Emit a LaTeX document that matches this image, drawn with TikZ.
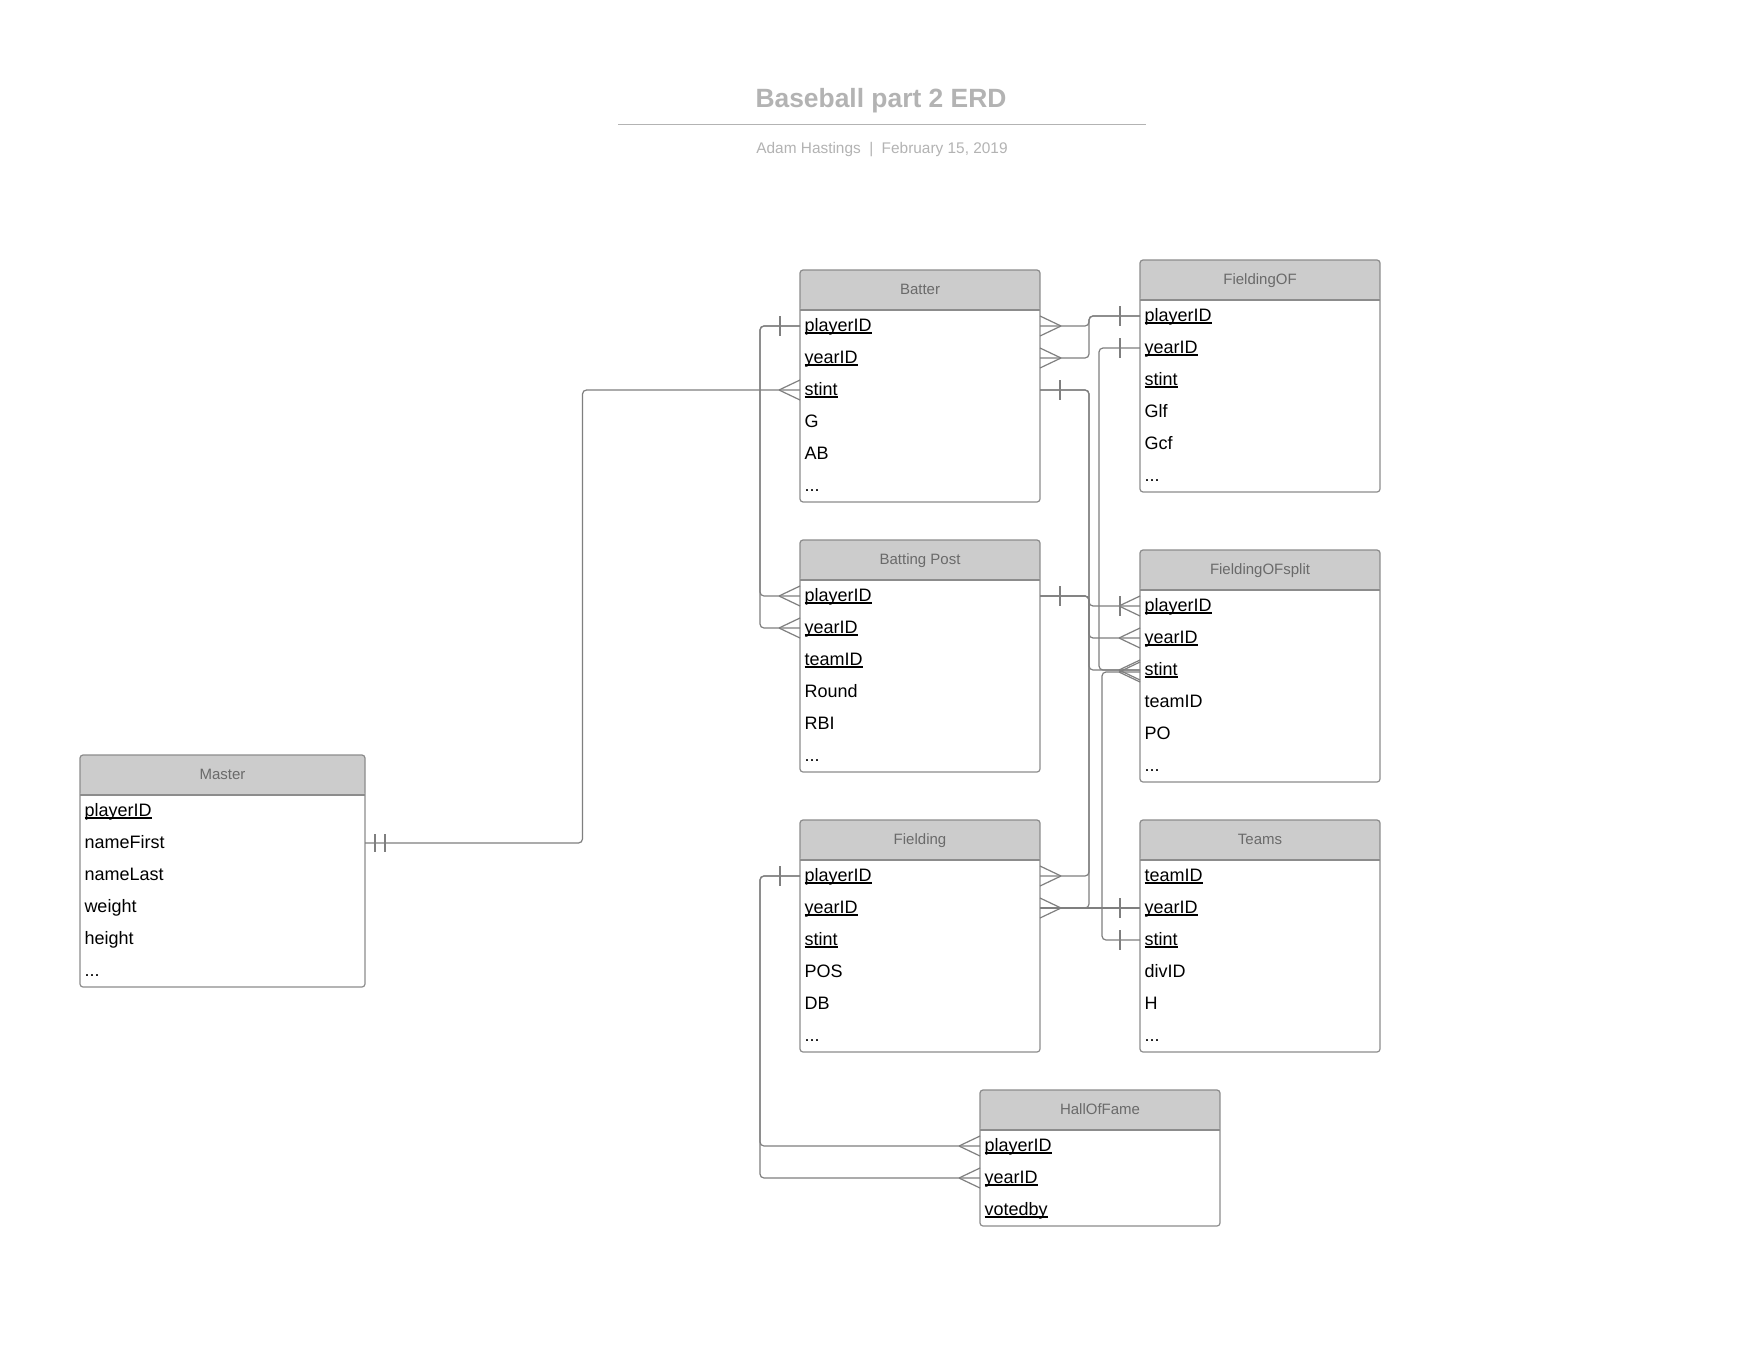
\documentclass[tikz,border=0pt]{standalone}
\usepackage{fontspec}
\setmainfont{Liberation Sans}
\definecolor{framecol}{HTML}{8C8C8C}
\definecolor{hdrfill}{HTML}{CCCCCC}
\definecolor{hdrtext}{HTML}{6A6A6A}
\definecolor{linecol}{HTML}{7F7F7F}
\definecolor{titlecol}{HTML}{B3B3B3}
\newsavebox\ulbox
\newcommand\ulx[1]{\sbox\ulbox{#1}\rlap{\rule[-1.0pt]{\wd\ulbox}{0.6pt}}\usebox\ulbox}
\newcommand\crowL[1]{\draw[conn,sharp corners] (#1) ++(-10.5pt,0) -- ++(10.5pt,5pt) ++(-10.5pt,-5pt) -- ++(10.5pt,-5pt);}
\newcommand\crowR[1]{\draw[conn,sharp corners] (#1) ++(10.5pt,0) -- ++(-10.5pt,5pt) ++(10.5pt,-5pt) -- ++(-10.5pt,-5pt);}
\newcommand\barL[1]{\draw[conn,sharp corners] ([xshift=-10pt]#1) ++(0,5pt) -- ++(0,-10pt);}
\newcommand\barR[1]{\draw[conn,sharp corners] ([xshift=10pt]#1) ++(0,5pt) -- ++(0,-10pt);}
\tikzset{
  entbox/.style={draw=framecol, fill=white, line width=0.6pt, rounded corners=1.5pt, inner sep=0pt, outer sep=0pt, anchor=north west, minimum width=120pt, minimum height=116pt,
    path picture={\fill[hdrfill] (path picture bounding box.north west) rectangle ([yshift=-20pt]path picture bounding box.north east);
      \draw[framecol, line width=0.6pt] ([yshift=-20pt]path picture bounding box.north west) -- ([yshift=-20pt]path picture bounding box.north east);}},
  hdrtxt/.style={inner sep=0pt, outer sep=0pt, text=hdrtext, font=\fontsize{7.5}{9}\selectfont, text height=5.4pt, text depth=0pt},
  rowtxt/.style={anchor=north west, inner xsep=2.25pt, inner ysep=0pt, outer sep=0pt, minimum height=16pt, text width=115.5pt, align=left, font=\fontsize{9}{10}\selectfont, text height=5.5pt, text depth=0pt},
  conn/.style={draw=linecol, line width=0.6pt, rounded corners=2pt},
}
\begin{document}
\begin{tikzpicture}[x=0.5pt,y=-0.5pt]
\useasboundingbox (0,0) rectangle (1760,1360);
\fill[white] (0,0) rectangle (1760,1360);

% title
\node[anchor=base, inner sep=0pt, text=titlecol, font=\fontsize{13.2}{15}\selectfont\bfseries] (title) at (881,107) {Baseball part 2 ERD};
\coordinate (ruleL) at (618,124.5);
\coordinate (ruleR) at (1146,124.5);
\draw[titlecol, line width=0.85pt] (ruleL) -- (ruleR);
\node[anchor=base, inner sep=0pt, text=titlecol, font=\fontsize{7.7}{9}\selectfont] (subtitle) at (882,153.5) {Adam Hastings\hspace{0.55em}|\hspace{0.55em}February 15, 2019};

% Batter
\node[entbox] (batter) at (800,270) {};
\node[hdrtxt] (batterH) at ([yshift=-9.6pt]batter.north) {Batter};
\node[rowtxt] (bat1) at ([yshift=-20pt]batter.north west) {\ulx{playerID}};
\node[rowtxt] (bat2) at (bat1.south west) {\ulx{yearID}};
\node[rowtxt] (bat3) at (bat2.south west) {\ulx{stint}};
\node[rowtxt] (bat4) at (bat3.south west) {G};
\node[rowtxt] (bat5) at (bat4.south west) {AB};
\node[rowtxt] (bat6) at (bat5.south west) {...};

% FieldingOF
\node[entbox] (fof) at (1140,260) {};
\node[hdrtxt] (fofH) at ([yshift=-9.6pt]fof.north) {FieldingOF};
\node[rowtxt] (fof1) at ([yshift=-20pt]fof.north west) {\ulx{playerID}};
\node[rowtxt] (fof2) at (fof1.south west) {\ulx{yearID}};
\node[rowtxt] (fof3) at (fof2.south west) {\ulx{stint}};
\node[rowtxt] (fof4) at (fof3.south west) {Glf};
\node[rowtxt] (fof5) at (fof4.south west) {Gcf};
\node[rowtxt] (fof6) at (fof5.south west) {...};

% Batting Post
\node[entbox] (bp) at (800,540) {};
\node[hdrtxt] (bpH) at ([yshift=-9.6pt]bp.north) {Batting Post};
\node[rowtxt] (bp1) at ([yshift=-20pt]bp.north west) {\ulx{playerID}};
\node[rowtxt] (bp2) at (bp1.south west) {\ulx{yearID}};
\node[rowtxt] (bp3) at (bp2.south west) {\ulx{teamID}};
\node[rowtxt] (bp4) at (bp3.south west) {Round};
\node[rowtxt] (bp5) at (bp4.south west) {RBI};
\node[rowtxt] (bp6) at (bp5.south west) {...};

% FieldingOFsplit
\node[entbox] (fos) at (1140,550) {};
\node[hdrtxt] (fosH) at ([yshift=-9.6pt]fos.north) {FieldingOFsplit};
\node[rowtxt] (fos1) at ([yshift=-20pt]fos.north west) {\ulx{playerID}};
\node[rowtxt] (fos2) at (fos1.south west) {\ulx{yearID}};
\node[rowtxt] (fos3) at (fos2.south west) {\ulx{stint}};
\node[rowtxt] (fos4) at (fos3.south west) {teamID};
\node[rowtxt] (fos5) at (fos4.south west) {PO};
\node[rowtxt] (fos6) at (fos5.south west) {...};

% Master
\node[entbox, minimum width=142.5pt] (mas) at (80,755) {};
\node[hdrtxt] (masH) at ([yshift=-9.6pt]mas.north) {Master};
\node[rowtxt, text width=138pt] (mas1) at ([yshift=-20pt]mas.north west) {\ulx{playerID}};
\node[rowtxt, text width=138pt] (mas2) at (mas1.south west) {nameFirst};
\node[rowtxt, text width=138pt] (mas3) at (mas2.south west) {nameLast};
\node[rowtxt, text width=138pt] (mas4) at (mas3.south west) {weight};
\node[rowtxt, text width=138pt] (mas5) at (mas4.south west) {height};
\node[rowtxt, text width=138pt] (mas6) at (mas5.south west) {...};

% Fielding
\node[entbox] (fld) at (800,820) {};
\node[hdrtxt] (fldH) at ([yshift=-9.6pt]fld.north) {Fielding};
\node[rowtxt] (fld1) at ([yshift=-20pt]fld.north west) {\ulx{playerID}};
\node[rowtxt] (fld2) at (fld1.south west) {\ulx{yearID}};
\node[rowtxt] (fld3) at (fld2.south west) {\ulx{stint}};
\node[rowtxt] (fld4) at (fld3.south west) {POS};
\node[rowtxt] (fld5) at (fld4.south west) {DB};
\node[rowtxt] (fld6) at (fld5.south west) {...};

% Teams
\node[entbox] (tm) at (1140,820) {};
\node[hdrtxt] (tmH) at ([yshift=-9.6pt]tm.north) {Teams};
\node[rowtxt] (tm1) at ([yshift=-20pt]tm.north west) {\ulx{teamID}};
\node[rowtxt] (tm2) at (tm1.south west) {\ulx{yearID}};
\node[rowtxt] (tm3) at (tm2.south west) {\ulx{stint}};
\node[rowtxt] (tm4) at (tm3.south west) {divID};
\node[rowtxt] (tm5) at (tm4.south west) {H};
\node[rowtxt] (tm6) at (tm5.south west) {...};

% HallOfFame
\node[entbox, minimum height=68pt] (hof) at (980,1090) {};
\node[hdrtxt] (hofH) at ([yshift=-9.6pt]hof.north) {HallOfFame};
\node[rowtxt] (hof1) at ([yshift=-20pt]hof.north west) {\ulx{playerID}};
\node[rowtxt] (hof2) at (hof1.south west) {\ulx{yearID}};
\node[rowtxt] (hof3) at (hof2.south west) {\ulx{votedby}};

% routing columns
\coordinate (busM) at (582.5,0);
\coordinate (busL) at (760,0);
\coordinate (busA) at (1089,0);
\coordinate (busB) at (1099,0);
\coordinate (busC) at (1102,0);

% connectors
\draw[conn] (mas2.east) -| (busM |- bat3.west) -- (bat3.west);
\draw[conn] (bat1.west) -| (busL |- bp1.west) -- (bp1.west);
\draw[conn] (bat1.west) -| (busL |- bp2.west) -- (bp2.west);
\draw[conn] (fld1.west) -| (busL |- hof1.west) -- (hof1.west);
\draw[conn] (fld1.west) -| (busL |- hof2.west) -- (hof2.west);
\draw[conn] (bat1.east) -| (busA |- fof1.west) -- (fof1.west);
\draw[conn] (bat2.east) -| (busA |- fof1.west) -- (fof1.west);
\draw[conn] (bat3.east) -| (busA |- fld1.east) -- (fld1.east);
\draw[conn] (bat3.east) -| (busA |- fld2.east) -- (fld2.east);
\draw[conn] (bp1.east) -| (busA |- fos1.west) -- (fos1.west);
\draw[conn] (bp1.east) -| (busA |- fos2.west) -- (fos2.west);
\draw[conn] (bp1.east) -| (busA |- fos3.west) -- (fos3.west);
\draw[conn] (fof2.west) -| (busB |- fos3.west) -- (fos3.west);
\draw[conn] (tm3.west) -| ([yshift=-1pt]busC |- fos3.west) -- ([yshift=-1pt]fos3.west);
\draw[conn] (fld2.east) -- (tm2.west);

% ends
\draw[conn] ([xshift=5pt]mas2.east) ++(0,4.5pt) -- ++(0,-9pt);
\draw[conn] ([xshift=10pt]mas2.east) ++(0,4.5pt) -- ++(0,-9pt);
\crowL{bat3.west}
\barL{bat1.west}
\crowL{bp1.west}
\crowL{bp2.west}
\barL{fld1.west}
\crowL{hof1.west}
\crowL{hof2.west}
\crowR{bat1.east}
\crowR{bat2.east}
\barR{bat3.east}
\barR{bp1.east}
\crowR{fld1.east}
\crowR{fld2.east}
\barL{fof1.west}
\barL{fof2.west}
\barL{fos1.west}
\crowL{fos1.west}
\crowL{fos2.west}
\crowL{fos3.west}
\crowL{[yshift=-1pt]fos3.west}
\barL{tm2.west}
\barL{tm3.west}
\end{tikzpicture}
\end{document}
